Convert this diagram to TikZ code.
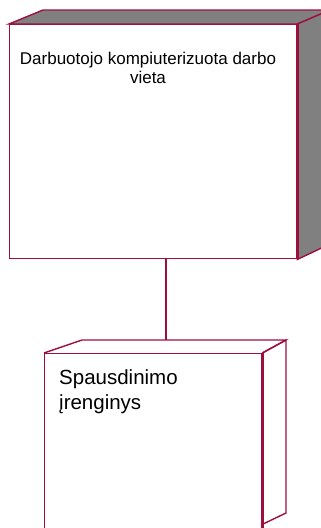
\documentclass[tikz,border=0pt]{standalone}
\usepackage{fontspec}
\setmainfont{Liberation Sans}
\definecolor{umlred}{RGB}{158,16,60}
\definecolor{umlgray}{RGB}{128,128,128}
\tikzset{
  edge/.style={draw=umlred, line width=1.4pt, line join=miter},
  thickedge/.style={draw=umlred, line width=2.4pt},
  face/.style={edge, fill=white, inner sep=0pt},
}
\begin{document}
\begin{tikzpicture}[x=1pt, y=-1pt]
\useasboundingbox (0,0) rectangle (321,528);
\clip (0,0) rectangle (321,528);
% ---- top node (3D box)
\node[face, minimum width=287pt, minimum height=234pt, anchor=north west] (ws) at (9,24) {};
\filldraw[edge, fill=umlgray] (ws.north west) -- (43,10) -- (330,10) -- (ws.north east) -- cycle;
\filldraw[edge, fill=umlgray] (ws.north east) -- (330,10) -- (330,244) -- (ws.south east) -- cycle;
\draw[thickedge] (ws.north east) -- (ws.south east);
\node[anchor=north, align=center, inner sep=0pt, font=\fontsize{17}{19}\selectfont] (wsl) at (148,52) {Darbuotojo kompiuterizuota darbo\\vieta};
% ---- bottom node (3D box)
\node[face, minimum width=217pt, minimum height=200pt, anchor=north west] (pr) at (44,353) {};
\draw[edge] (pr.north west) -- (82,340) -- (286,340) -- (pr.north east);
\draw[edge] (pr.north east) -- (286,340) -- (286,513) -- (261,525);
\draw[thickedge] (pr.north east) -- (pr.south east);
\coordinate (prtop) at (166,340);
\node[anchor=north west, align=left, inner sep=0pt, font=\fontsize{20.5}{25}\selectfont] (prl) at (59,369) {Spausdinimo\\įrenginys};
% ---- connector
\draw[edge] (ws.south -| prtop) -- (prtop);
\end{tikzpicture}
\end{document}
